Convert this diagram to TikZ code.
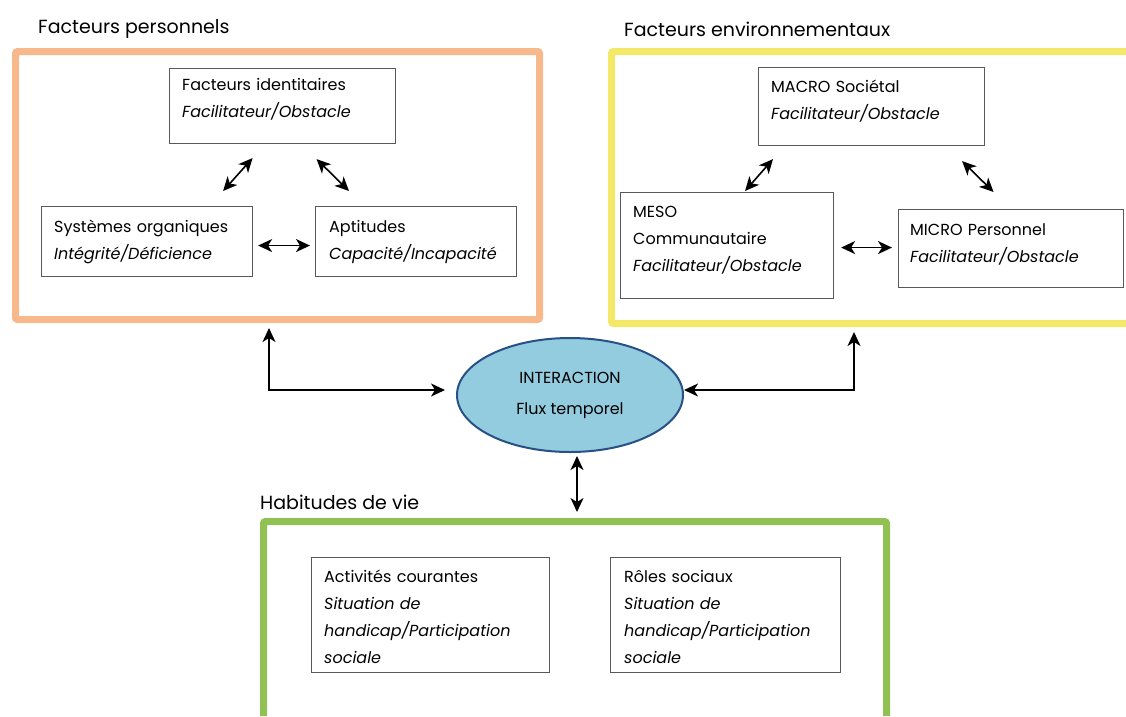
\documentclass[tikz,border=0pt]{standalone}
\usepackage{fontspec}
\setmainfont{Poppins}
\usetikzlibrary{shapes.geometric,arrows.meta,calc}
\definecolor{persorange}{RGB}{247,185,140}
\definecolor{envyellow}{RGB}{243,232,104}
\definecolor{habgreen}{RGB}{146,193,83}
\definecolor{interfill}{RGB}{146,204,222}
\definecolor{interdraw}{RGB}{40,80,135}

\begin{document}
\begin{tikzpicture}[x=1pt,y=-1pt,
	box/.style={draw=black!65,line width=1.1pt,anchor=north west,inner sep=0pt},
	txt/.style={anchor=base west,inner sep=0pt,align=left,text width=#1,font=\fontsize{16}{27}\selectfont},
	frame/.style={line width=7pt,rounded corners=2pt},
	title/.style={anchor=base west,inner sep=0pt,font=\fontsize{19}{19}\selectfont},
	dbl/.style={{Stealth[length=14pt,width=13pt,inset=4pt]}-{Stealth[length=14pt,width=13pt,inset=4pt]},line width=1.6pt}]
	\useasboundingbox (0,0) rectangle (1126,716);
	\draw[frame,draw=persorange] (15.5,51.5) rectangle (539.5,319.5);
	\draw[frame,draw=envyellow] (1126,51.5) -- (611.5,51.5) -- (611.5,323.5) -- (1126,323.5);
	\draw[frame,draw=habgreen] (263.5,716) -- (263.5,521.5) -- (886.5,521.5) -- (886.5,716);
	\node[title] (tpers) at (38,33) {Facteurs personnels};
	\node[title] (tenv) at (624,36) {Facteurs environnementaux};
	\node[title] (thab) at (260,509) {Habitudes de vie};
	\coordinate (persbot) at (269,323);
	\coordinate (envbot) at (854,327);
	\coordinate (habtop) at (577,518);
	\node[box,minimum width=226,minimum height=75] (ident) at (169,68) {};
	\node[box,minimum width=211,minimum height=70] (sysorg) at (41,206) {};
	\node[box,minimum width=201,minimum height=70] (apt) at (315,206) {};
	\node[box,minimum width=226,minimum height=78] (macro) at (758,67) {};
	\node[box,minimum width=213,minimum height=106] (meso) at (620,192) {};
	\node[box,minimum width=225,minimum height=78] (micro) at (898,209) {};
	\node[box,minimum width=238,minimum height=115] (activ) at (311,557) {};
	\node[box,minimum width=230,minimum height=115] (roles) at (610,557) {};
	\node[txt=210] (identtxt) at (182,90) {Facteurs identitaires\\\textit{Facilitateur/Obstacle}};
	\node[txt=195] (sysorgtxt) at (54,232) {Systèmes organiques\\\textit{Intégrité/Déficience}};
	\node[txt=185] (apttxt) at (329,232) {Aptitudes\\\textit{Capacité/Incapacité}};
	\node[txt=210] (macrotxt) at (771,92) {MACRO Sociétal\\\textit{Facilitateur/Obstacle}};
	\node[txt=195] (mesotxt) at (633,217) {MESO\\Communautaire\\\textit{Facilitateur/Obstacle}};
	\node[txt=210] (microtxt) at (910,235) {MICRO Personnel\\\textit{Facilitateur/Obstacle}};
	\node[txt=222] (activtxt) at (324,582) {Activités courantes\\\textit{Situation de}\\\textit{handicap/Participation}\\\textit{sociale}};
	\node[txt=214] (rolestxt) at (624,582) {Rôles sociaux\\\textit{Situation de}\\\textit{handicap/Participation}\\\textit{sociale}};
	\node[ellipse,draw=interdraw,fill=interfill,line width=2pt,minimum width=226,minimum height=114,align=center,font=\fontsize{16}{31}\selectfont] (inter) at (570,395) {INTERACTION\\Flux temporel};
	\draw[dbl] ($(sysorg.north east)+(-30,-15)$) -- ($(ident.south)+(-30,14)$);
	\draw[dbl] ($(ident.south)+(34,15)$) -- ($(apt.north west)+(34,-15)$);
	\draw[dbl] ($(sysorg.east)+(5,4)$) -- ($(apt.west)+(-5,4)$);
	\draw[dbl] ($(meso.north)+(18,-1)$) -- ($(macro.south west)+(15,13)$);
	\draw[dbl] ($(macro.south east)+(-23,15)$) -- ($(micro.north)+(-17.5,-17)$);
	\draw[dbl] ($(meso.east)+(7,2)$) -- ($(micro.west)+(-6,-1)$);
	\draw[dbl] ($(persbot)+(0,5)$) |- ($(inter.west)+(-11,-5)$);
	\draw[dbl] ($(envbot)+(0,5)$) |- ($(inter.east)+(0,-5)$);
	\draw[dbl] ($(inter.south)+(7,3)$) -- ($(habtop)+(0,-6)$);
\end{tikzpicture}
\end{document}
